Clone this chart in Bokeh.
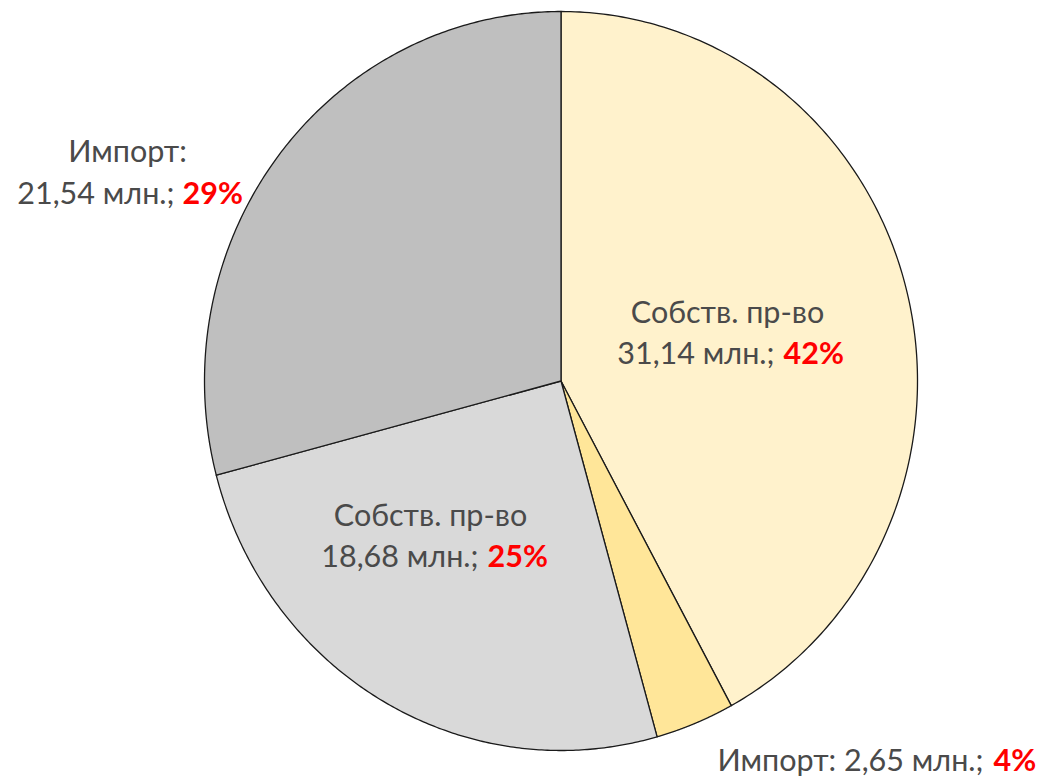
import numpy as np
from bokeh.plotting import figure
from bokeh.models import Range1d, ColumnDataSource
from bokeh.core.properties import value
from bokeh.embed import file_html
from bokeh.resources import INLINE

# ---- data ----
categories = ["Собств. пр-во", "Импорт", "Собств. пр-во", "Импорт"]
values = [31.14, 2.65, 18.68, 21.54]
colors = ["#FFF2CC", "#FFE699", "#D9D9D9", "#BFBFBF"]

total = sum(values)
pcts = [f"{round(v / total * 100)}%" for v in values]
vals_txt = [f"{v:.2f}".replace(".", ",") + " млн.;" for v in values]

# ---- layout (screen pixel coordinates) ----
W, H = 1041, 779
cx, cy, rx, ry = 560.5, 380.5, 356.5, 369.5
FONT = "Lato"
FS = "30.5px"
TXT = "#4A4A4A"
DY = -12  # baseline correction

p = figure(width=W, height=H, x_range=Range1d(0, W), y_range=Range1d(H, 0),
           output_backend="svg", toolbar_location=None, min_border=0)
p.axis.visible = False
p.grid.visible = False
p.outline_line_color = None
p.background_fill_color = "white"

# pie slices (clockwise from 12 o'clock), ellipse as in reference
fr = np.array(values) / total
bounds = np.concatenate([[0], np.cumsum(fr)]) * 2 * np.pi
xs, ys = [], []
for i in range(len(values)):
    th = np.linspace(bounds[i], bounds[i + 1], 200)
    xs.append([cx] + list(cx + rx * np.sin(th)))
    ys.append([cy] + list(cy - ry * np.cos(th)))
p.patches(xs=xs, ys=ys, fill_color=colors, line_color="#1a1a1a", line_width=1.3,
          line_join="round")

lab = [
    dict(l1=categories[0], x1=727, y1=322, xs=774, xr=783, y2=363, v=vals_txt[0], pc=pcts[0]),
    dict(l1=categories[2], x1=430, y1=525, xs=478, xr=487, y2=566, v=vals_txt[2], pc=pcts[2]),
    dict(l1=categories[3] + ":", x1=127, y1=161, xs=174, xr=182, y2=203, v=vals_txt[3], pc=pcts[3]),
]
bx_s, bx_r, by = 983, 993, 770  # bottom label (small import slice)

src1 = ColumnDataSource(dict(x=[d["x1"] for d in lab], y=[d["y1"] + DY for d in lab], t=[d["l1"] for d in lab]))
p.text(x="x", y="y", text="t", source=src1, text_font=value(FONT), text_font_size=FS,
       text_color=TXT, text_align="center", text_baseline="alphabetic")

src2 = ColumnDataSource(dict(x=[d["xs"] for d in lab] + [bx_s], y=[d["y2"] + DY for d in lab] + [by + DY],
                             t=[d["v"] for d in lab] + [categories[1] + ": " + vals_txt[1]]))
p.text(x="x", y="y", text="t", source=src2, text_font=value(FONT), text_font_size=FS,
       text_color=TXT, text_align="right", text_baseline="alphabetic")

src3 = ColumnDataSource(dict(x=[d["xr"] for d in lab] + [bx_r], y=[d["y2"] + DY for d in lab] + [by + DY],
                             t=[d["pc"] for d in lab] + [pcts[1]]))
p.text(x="x", y="y", text="t", source=src3, text_font=value(FONT), text_font_size=FS,
       text_font_style="bold", text_color="#FF0000", text_align="left", text_baseline="alphabetic")

open("out.html", "w").write(file_html(p, INLINE))
